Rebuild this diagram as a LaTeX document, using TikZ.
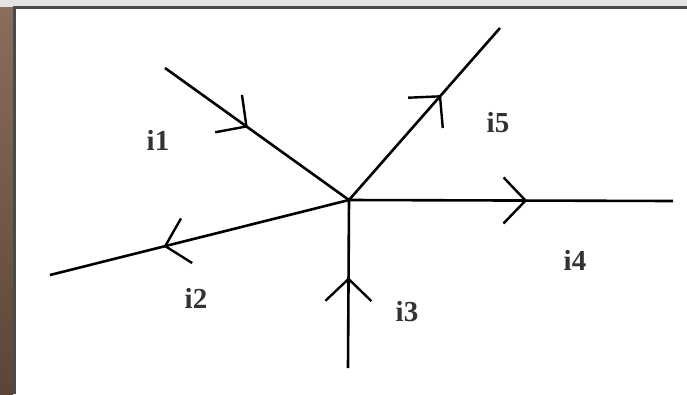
\documentclass[tikz,border=0pt]{standalone}
\usepackage{fontspec}
\setmainfont{Liberation Serif}
\usetikzlibrary{arrows.meta, decorations.markings}
\definecolor{PhotoBrown}{HTML}{5C4537}
\definecolor{PhotoLight}{HTML}{8A6E5C}
\definecolor{BarGray}{HTML}{E4E4E4}
\definecolor{EdgeGray}{HTML}{4A4A4A}

\begin{document}
\begin{tikzpicture}[x=1pt, y=-1pt,
  wire/.style={line width=2.6pt, black},
  midarrow/.style={postaction={decorate}, decoration={markings,
    mark=at position #1 with {\arrow{Straight Barb[length=22pt, width=46pt, line width=2.4pt]}}}},
  label_style/.style={font=\fontsize{29}{32}\selectfont\bfseries, text=black!80}
]
  % screenshot frame
  \useasboundingbox (0,0) rectangle (687,394);
  \fill[white] (0,0) rectangle (687,394);
  \shade[top color=PhotoLight, bottom color=PhotoBrown] (0,7) rectangle (13,394);
  \fill[BarGray] (0,0) rectangle (687,7);
  \fill[EdgeGray] (13,6) rectangle (687,9);
  \fill[EdgeGray] (13,6) rectangle (16,394);

  % junction and wire ends
  \coordinate (c) at (349,200);
  \coordinate (e1) at (165,68);
  \coordinate (e2) at (50,275);
  \coordinate (e3) at (348,368);
  \coordinate (e4) at (673,201);
  \coordinate (e5) at (500,28);

  \draw[wire, midarrow=0.45] (e1) -- (c);
  \draw[wire, midarrow=0.62] (c) -- (e2);
  \draw[wire, midarrow=0.54] (e3) -- (c);
  \draw[wire, midarrow=0.55] (c) -- (e4);
  \draw[wire, midarrow=0.61] (c) -- (e5);

  \node[label_style] (l1) at (158,140) {i1};
  \node[label_style] (l2) at (196,298) {i2};
  \node[label_style] (l3) at (407,312) {i3};
  \node[label_style] (l4) at (575,260) {i4};
  \node[label_style] (l5) at (498,123) {i5};

\end{tikzpicture}
\end{document}
